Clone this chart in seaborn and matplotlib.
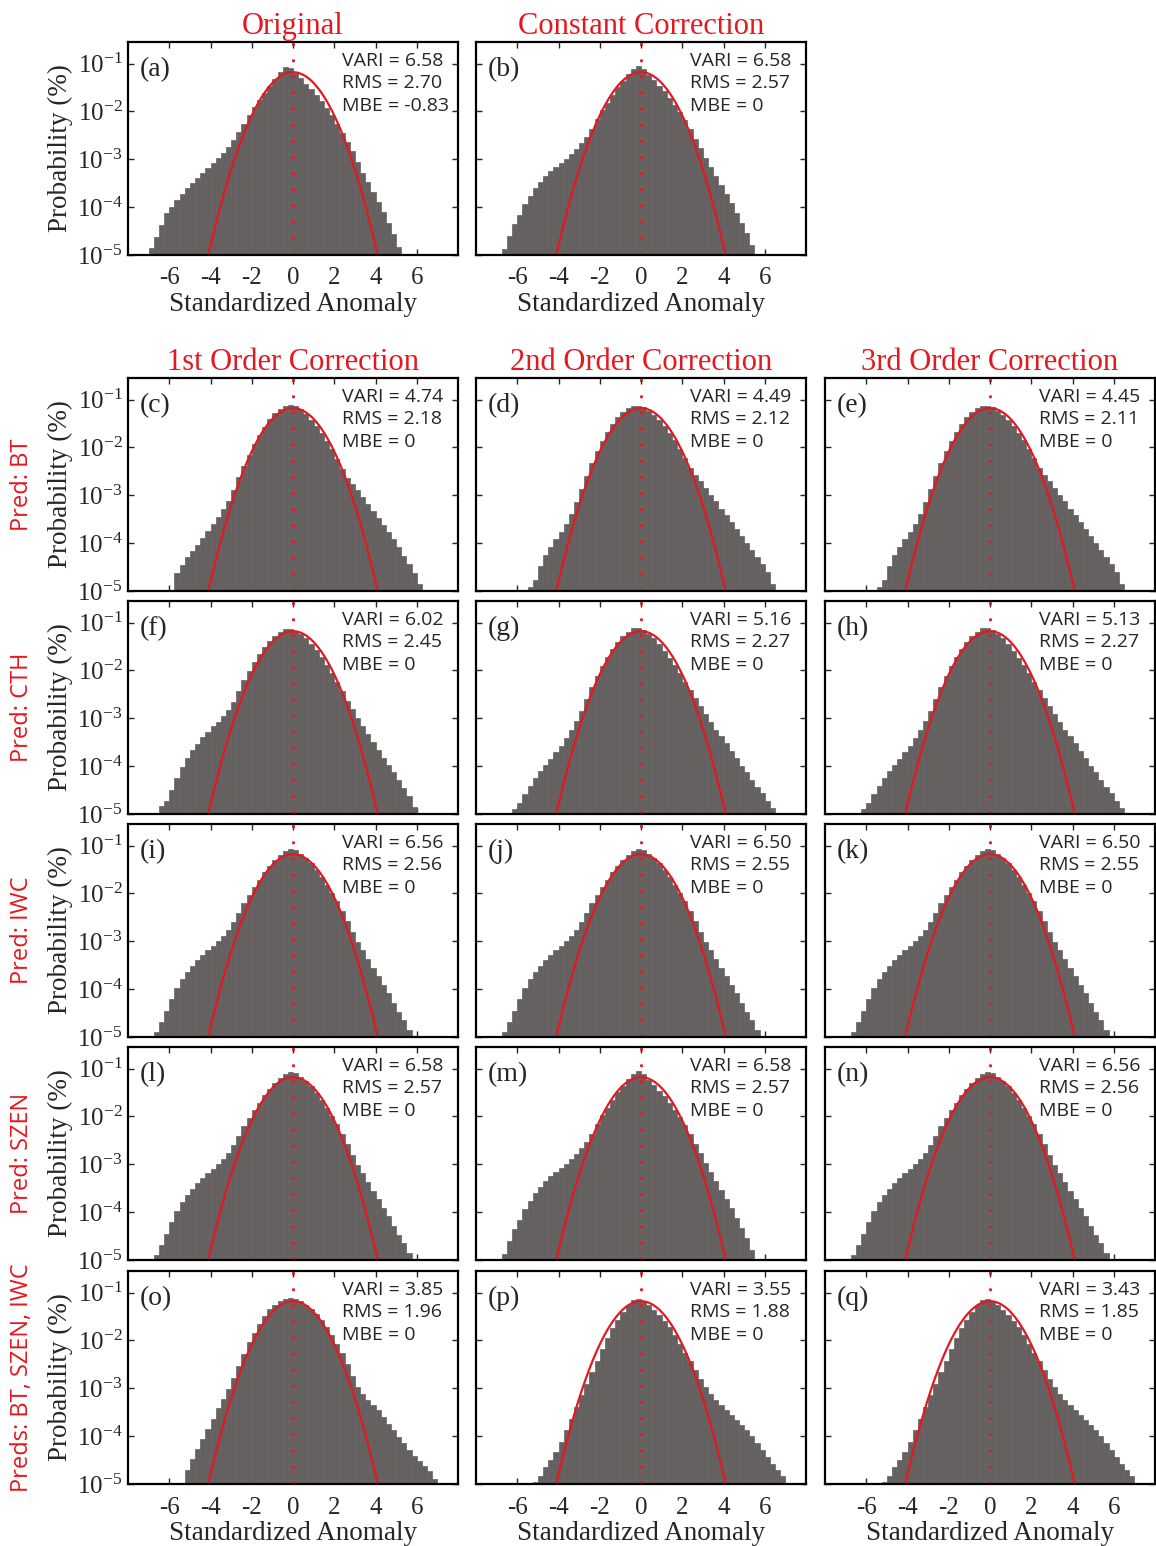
import numpy as np
import pandas as pd
import matplotlib
matplotlib.use("Agg")
import matplotlib.pyplot as plt
from matplotlib.ticker import NullLocator, FixedLocator
import seaborn as sns

# ---- data ---------------------------------------------------------------
# histograms: log10(probability) per 0.25-wide bin, starting at the left edge given
bin_width = 0.25

start_a = -7.0
logp_a = [-4.85, -4.62, -4.38, -4.13, -3.99, -3.85, -3.73, -3.61, -3.50, -3.39,
          -3.28, -3.18, -3.08, -2.97, -2.86, -2.74, -2.60, -2.44, -2.27, -2.08,
          -1.90, -1.76, -1.61, -1.47, -1.32, -1.17, -1.07, -1.09, -1.19, -1.31,
          -1.43, -1.53, -1.66, -1.79, -1.93, -2.08, -2.27, -2.46, -2.64, -2.83,
          -3.06, -3.28, -3.48, -3.68, -3.89, -4.10, -4.33, -4.57, -4.84]

start_b = -6.75
logp_b = [-4.87, -4.61, -4.35, -4.16, -3.94, -3.76, -3.60, -3.47, -3.35, -3.25,
          -3.17, -3.08, -2.99, -2.89, -2.79, -2.67, -2.53, -2.36, -2.16, -1.98,
          -1.82, -1.66, -1.50, -1.36, -1.22, -1.11, -1.05, -1.12, -1.24, -1.35,
          -1.46, -1.58, -1.72, -1.87, -2.02, -2.19, -2.36, -2.57, -2.77, -2.97,
          -3.17, -3.35, -3.54, -3.73, -3.91, -4.12, -4.33, -4.55, -4.80]

start_c = -5.75
logp_c = [-4.62, -4.46, -4.30, -4.16, -4.03, -3.89, -3.75, -3.61, -3.45, -3.29,
          -3.12, -2.90, -2.61, -2.39, -2.15, -1.93, -1.74, -1.57, -1.41, -1.28,
          -1.19, -1.14, -1.12, -1.14, -1.20, -1.30, -1.42, -1.55, -1.70, -1.86,
          -2.03, -2.24, -2.45, -2.63, -2.77, -2.90, -3.04, -3.18, -3.33, -3.47,
          -3.62, -3.77, -3.92, -4.09, -4.26, -4.44, -4.62, -4.85]

start_d = -5.5
logp_d = [-4.92, -4.78, -4.48, -4.25, -4.08, -3.92, -3.76, -3.59, -3.39, -3.14,
          -2.87, -2.60, -2.32, -2.08, -1.86, -1.68, -1.51, -1.37, -1.26, -1.18,
          -1.14, -1.13, -1.16, -1.23, -1.32, -1.43, -1.56, -1.70, -1.85, -2.03,
          -2.23, -2.42, -2.58, -2.71, -2.85, -2.99, -3.13, -3.28, -3.42, -3.56,
          -3.71, -3.85, -4.00, -4.14, -4.29, -4.44, -4.61, -4.85]

start_f = -6.5
logp_f = [-4.84, -4.72, -4.49, -4.25, -4.02, -3.83, -3.67, -3.53, -3.40, -3.28,
          -3.17, -3.07, -2.96, -2.83, -2.65, -2.42, -2.21, -2.02, -1.83, -1.65,
          -1.51, -1.38, -1.28, -1.19, -1.14, -1.13, -1.17, -1.24, -1.33, -1.44,
          -1.57, -1.72, -1.89, -2.06, -2.24, -2.43, -2.63, -2.81, -2.99, -3.16,
          -3.33, -3.50, -3.66, -3.82, -3.98, -4.13, -4.28, -4.45, -4.63, -4.85]

start_g = -6.25
logp_g = [-4.90, -4.76, -4.58, -4.42, -4.25, -4.11, -3.98, -3.85, -3.71, -3.58,
          -3.41, -3.24, -3.05, -2.84, -2.60, -2.35, -2.11, -1.90, -1.71, -1.55,
          -1.41, -1.29, -1.19, -1.12, -1.11, -1.15, -1.23, -1.33, -1.45, -1.59,
          -1.74, -1.89, -2.06, -2.24, -2.41, -2.57, -2.74, -2.92, -3.08, -3.24,
          -3.38, -3.52, -3.68, -3.84, -3.99, -4.13, -4.28, -4.43, -4.57, -4.72,
          -4.88]

start_i = -6.75
logp_i = [-4.90, -4.68, -4.45, -4.20, -3.98, -3.79, -3.65, -3.52, -3.39, -3.28,
          -3.18, -3.09, -2.99, -2.88, -2.76, -2.60, -2.41, -2.21, -2.03, -1.86,
          -1.72, -1.56, -1.42, -1.30, -1.20, -1.12, -1.07, -1.09, -1.17, -1.26,
          -1.37, -1.51, -1.66, -1.83, -1.99, -2.16, -2.36, -2.58, -2.80, -3.01,
          -3.19, -3.37, -3.55, -3.73, -3.91, -4.09, -4.28, -4.47, -4.65, -4.86]

start_o = -5.25
logp_o = [-4.70, -4.48, -4.27, -4.06, -3.86, -3.64, -3.42, -3.22, -3.02, -2.78,
          -2.53, -2.28, -2.04, -1.84, -1.65, -1.48, -1.35, -1.25, -1.17, -1.13,
          -1.11, -1.13, -1.18, -1.26, -1.34, -1.45, -1.58, -1.72, -1.88, -2.07,
          -2.27, -2.49, -2.74, -2.97, -3.13, -3.24, -3.35, -3.46, -3.60, -3.74,
          -3.88, -4.01, -4.15, -4.29, -4.41, -4.52, -4.62, -4.73, -4.90]

start_p = -5.25
logp_p = [-4.96, -4.84, -4.64, -4.49, -4.33, -4.12, -3.88, -3.64, -3.40, -3.15,
          -2.91, -2.67, -2.42, -2.17, -1.95, -1.75, -1.57, -1.41, -1.25, -1.15,
          -1.13, -1.17, -1.26, -1.36, -1.47, -1.59, -1.73, -1.89, -2.07, -2.26,
          -2.44, -2.62, -2.81, -2.98, -3.12, -3.25, -3.35, -3.45, -3.56, -3.66,
          -3.76, -3.87, -4.00, -4.14, -4.29, -4.44, -4.58, -4.70, -4.84]

shapes = {
    "a": (start_a, logp_a), "b": (start_b, logp_b), "c": (start_c, logp_c),
    "d": (start_d, logp_d), "f": (start_f, logp_f), "g": (start_g, logp_g),
    "i": (start_i, logp_i), "o": (start_o, logp_o), "p": (start_p, logp_p),
}

panel_letters = ["a", "b", "c", "d", "e", "f", "g", "h", "i",
                 "j", "k", "l", "m", "n", "o", "p", "q"]
panel_shape = ["a", "b", "c", "d", "d", "f", "g", "g", "i",
               "i", "i", "i", "b", "i", "o", "p", "p"]
vari = ["6.58", "6.58", "4.74", "4.49", "4.45", "6.02", "5.16", "5.13", "6.56",
        "6.50", "6.50", "6.58", "6.58", "6.56", "3.85", "3.55", "3.43"]
rms = ["2.70", "2.57", "2.18", "2.12", "2.11", "2.45", "2.27", "2.27", "2.56",
       "2.55", "2.55", "2.57", "2.57", "2.56", "1.96", "1.88", "1.85"]
mbe = ["-0.83", "0", "0", "0", "0", "0", "0", "0", "0",
       "0", "0", "0", "0", "0", "0", "0", "0"]

top_titles = ["Original", "Constant Correction"]
col_titles = ["1st Order Correction", "2nd Order Correction", "3rd Order Correction"]
row_labels = ["Pred: BT", "Pred: CTH", "Pred: IWC", "Pred: SZEN", "Preds: BT, SZEN, IWC"]
x_ticks = [-6, -4, -2, 0, 2, 4, 6]
y_ticks = [1e-5, 1e-4, 1e-3, 1e-2, 1e-1]

# reference normal curve (peak probability per bin and width)
normal_peak = 0.066
normal_sigma = 0.98

# ---- style ----------------------------------------------------------------
sns.set_style("ticks")
plt.rcParams["font.family"] = ["Liberation Serif", "DejaVu Serif"]
plt.rcParams["mathtext.fontset"] = "custom"
plt.rcParams["mathtext.rm"] = "Liberation Serif"
plt.rcParams["axes.unicode_minus"] = False

RED = "#e4181f"
BAR = "#656160"
SANS = ["Open Sans", "DejaVu Sans"]

W, H = 1156, 1546
fig = plt.figure(figsize=(W / 100, H / 100), dpi=100)

col_left = [128, 476, 825]
row_top = [42, 378, 601, 824, 1047, 1271]
ax_w, ax_h = 330, 213

# (row, col) of each panel
slots = [(0, 0), (0, 1)] + [(r, c) for r in range(1, 6) for c in range(3)]

for k, (row, col) in enumerate(slots):
    x0 = col_left[col] / W
    y0 = 1 - (row_top[row] + ax_h) / H
    ax = fig.add_axes([x0, y0, ax_w / W, ax_h / H])

    start, logp = shapes[panel_shape[k]]
    edges = [start + bin_width * j for j in range(len(logp) + 1)]
    hist = pd.DataFrame({"anom": [e + bin_width / 2 for e in edges[:-1]],
                         "prob": [10 ** v for v in logp]})
    sns.histplot(data=hist, x="anom", weights="prob", bins=edges, stat="count",
                 color=BAR, alpha=1, edgecolor=BAR, linewidth=0.5, ax=ax)
    ax.set_yscale("log")

    xs = np.linspace(-4.5, 4.5, 400)
    ax.plot(xs, normal_peak * np.exp(-xs ** 2 / (2 * normal_sigma ** 2)),
            color=RED, lw=1.6)
    ax.axvline(0, color=RED, lw=2.0, ls=(0, (1, 4.8)))

    ax.set_xlim(-8, 8)
    ax.set_ylim(1e-5, 10 ** -0.55)
    ax.xaxis.set_major_locator(FixedLocator(x_ticks))
    ax.yaxis.set_major_locator(FixedLocator(y_ticks))
    ax.yaxis.set_minor_locator(NullLocator())
    ax.tick_params(direction="in", length=4, width=1, top=True, right=True,
                   labelsize=18)
    ax.tick_params(axis="x", pad=9)
    ax.tick_params(axis="y", pad=4)
    for s in ax.spines.values():
        s.set_linewidth(1.6)
        s.set_color("black")

    ax.set_ylabel("")
    ax.set_xlabel("")
    if col == 0:
        ax.set_ylabel("Probability (%)", fontsize=19.5, labelpad=3)
    else:
        ax.tick_params(labelleft=False)
    if row == 0 or row == 5:
        ax.set_xlabel("Standardized Anomaly", fontsize=19.5, labelpad=2)
    else:
        ax.tick_params(labelbottom=False)

    if row == 0:
        ax.set_title(top_titles[col], color=RED, fontsize=22, pad=6)
    elif row == 1:
        ax.set_title(col_titles[col], color=RED, fontsize=22, pad=6)

    ax.text(0.035, 0.93, f"({panel_letters[k]})", transform=ax.transAxes,
            ha="left", va="top", fontsize=20)
    ax.text(0.648, 0.955, f"VARI = {vari[k]}\nRMS = {rms[k]}\nMBE = {mbe[k]}",
            transform=ax.transAxes, ha="left", va="top", fontsize=14,
            family=SANS, linespacing=1.32)

for r, lab in enumerate(row_labels):
    yc = 1 - (row_top[r + 1] + ax_h / 2) / H
    fig.text(22 / W, yc, lab, rotation=90, color=RED, fontsize=17,
             family=SANS, ha="center", va="center")

fig.savefig("out.png", dpi=100)
